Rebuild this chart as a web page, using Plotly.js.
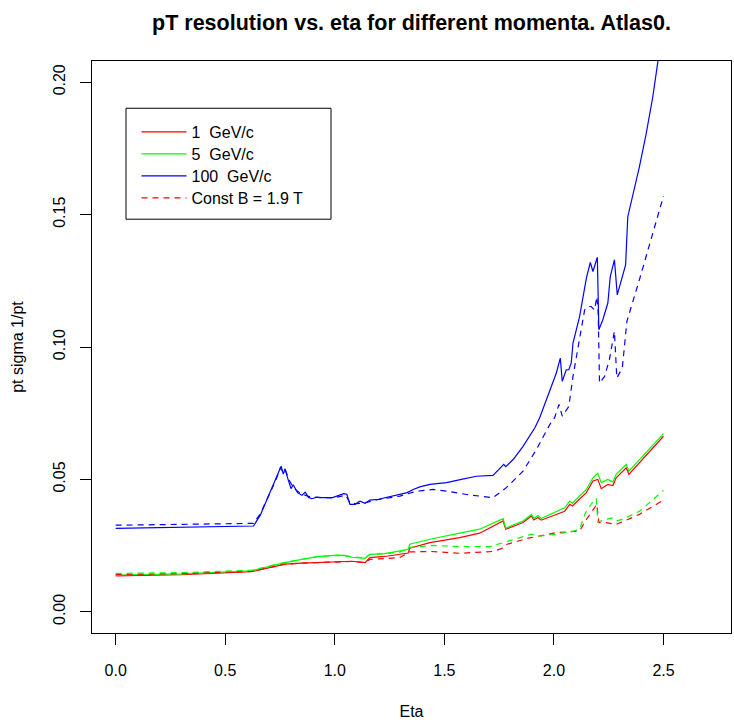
<!DOCTYPE html>
<html>
<head>
<meta charset="utf-8">
<script src="https://cdn.plot.ly/plotly-3.0.1.min.js"></script>
<style>
  html, body { margin: 0; padding: 0; background: #ffffff; }
  #chart { width: 734px; height: 728px; }
</style>
</head>
<body>
<div id="chart"></div>
<script>
// pT resolution (sigma of 1/pt) versus pseudorapidity, Atlas0 geometry.
// Solid lines: full field map; dashed lines: constant B = 1.9 T.

// 1 GeV/c, full field
const eta1 = [0.00, 0.30, 0.621, 0.70, 0.773, 0.85, 0.925, 1.016, 1.077, 1.138, 1.16, 1.229, 1.297, 1.335, 1.342,
  1.434, 1.57, 1.661, 1.768, 1.78, 1.859, 1.897, 1.908, 1.927, 1.942, 2.026, 2.049, 2.072, 2.084, 2.148,
  2.178, 2.20, 2.216, 2.246, 2.269, 2.284, 2.33, 2.342, 2.413, 2.50];
const res1 = [0.0136, 0.0140, 0.0152, 0.0167, 0.0180, 0.0184, 0.0186, 0.0188, 0.0191, 0.0186, 0.0205, 0.0209, 0.0217, 0.0222, 0.0240,
  0.0261, 0.0280, 0.0297, 0.0343, 0.0312, 0.0337, 0.0362, 0.0347, 0.0356, 0.0346, 0.0371, 0.0380, 0.0406, 0.0400, 0.0450,
  0.0494, 0.0500, 0.0465, 0.0481, 0.0477, 0.0506, 0.0544, 0.0519, 0.0585, 0.0663];

// 5 GeV/c, full field
const eta5 = [0.00, 0.30, 0.621, 0.70, 0.773, 0.85, 0.925, 1.016, 1.05, 1.077, 1.138, 1.16, 1.229, 1.297, 1.335, 1.342,
  1.434, 1.57, 1.661, 1.768, 1.78, 1.859, 1.897, 1.908, 1.927, 1.942, 2.026, 2.049, 2.072, 2.084, 2.148,
  2.178, 2.20, 2.216, 2.246, 2.269, 2.284, 2.33, 2.342, 2.413, 2.50];
const res5 = [0.0139, 0.0143, 0.0155, 0.0172, 0.0186, 0.0198, 0.0209, 0.0214, 0.0213, 0.0206, 0.0202, 0.0217, 0.0220, 0.0230, 0.0236, 0.0255,
  0.0274, 0.0297, 0.0312, 0.0352, 0.0316, 0.0343, 0.0368, 0.0352, 0.0364, 0.0352, 0.0383, 0.0393, 0.0418, 0.0410, 0.0462,
  0.0506, 0.0523, 0.0488, 0.0500, 0.0490, 0.0519, 0.0557, 0.0531, 0.0594, 0.0673];

// 100 GeV/c, full field
const eta100 = [0.00, 0.30, 0.629, 0.66, 0.70, 0.73, 0.755, 0.765, 0.773, 0.785, 0.80, 0.81, 0.83, 0.85, 0.865, 0.88,
  0.895, 0.92, 0.94, 0.99, 1.02, 1.04, 1.055, 1.069, 1.092, 1.115, 1.138, 1.16, 1.20, 1.23, 1.297, 1.33,
  1.358, 1.388, 1.434, 1.51, 1.578, 1.646, 1.722, 1.771, 1.78, 1.814, 1.859, 1.913, 1.935, 1.973, 2.011,
  2.029, 2.038, 2.056, 2.068, 2.079, 2.087, 2.117, 2.132, 2.148, 2.166, 2.178, 2.198, 2.205, 2.223, 2.246,
  2.257, 2.276, 2.289, 2.327, 2.337, 2.39, 2.421, 2.451, 2.474, 2.50];
const res100 = [0.0315, 0.0318, 0.0324, 0.0365, 0.0440, 0.0500, 0.0550, 0.0520, 0.0540, 0.0505, 0.0465, 0.0480, 0.0450, 0.0440, 0.0452, 0.0432,
  0.0427, 0.0433, 0.0431, 0.0431, 0.0440, 0.0446, 0.0444, 0.0406, 0.0406, 0.0418, 0.0410, 0.0422, 0.0425, 0.0431, 0.0443, 0.0450,
  0.0462, 0.0472, 0.0481, 0.0488, 0.0500, 0.0512, 0.0515, 0.0557, 0.0548, 0.0575, 0.0625, 0.0695, 0.0733, 0.0814, 0.0902,
  0.0958, 0.0870, 0.0914, 0.0914, 0.0940, 0.1015, 0.1115, 0.1178, 0.1260, 0.1319, 0.1285, 0.1339, 0.1065, 0.1103, 0.1166,
  0.1266, 0.1329, 0.1197, 0.1310, 0.1492, 0.1680, 0.1806, 0.1944, 0.2076, 0.2230];

// 1 GeV/c, constant B = 1.9 T
const eta1B = [0.00, 0.30, 0.621, 0.70, 0.773, 0.85, 0.925, 1.016, 1.077, 1.138, 1.16, 1.229, 1.297, 1.342, 1.434,
  1.57, 1.661, 1.722, 1.768, 1.786, 1.877, 1.935, 2.011, 2.117, 2.148, 2.196, 2.205, 2.238, 2.284, 2.314,
  2.39, 2.50];
const res1B = [0.0141, 0.0144, 0.0153, 0.0167, 0.0180, 0.0184, 0.0186, 0.0188, 0.0190, 0.0186, 0.0198, 0.0201, 0.0205, 0.0226, 0.0228,
  0.0221, 0.0224, 0.0228, 0.0241, 0.0255, 0.0277, 0.0286, 0.0299, 0.0305, 0.0349, 0.0406, 0.0337, 0.0337, 0.0330, 0.0340,
  0.0368, 0.0422];

// 5 GeV/c, constant B = 1.9 T
const eta5B = [0.00, 0.30, 0.621, 0.70, 0.773, 0.85, 0.925, 1.016, 1.077, 1.138, 1.16, 1.229, 1.297, 1.342, 1.449,
  1.57, 1.707, 1.768, 1.829, 1.897, 1.935, 2.011, 2.087, 2.117, 2.144, 2.185, 2.193, 2.20, 2.238, 2.265,
  2.284, 2.314, 2.39, 2.50];
const res5B = [0.0145, 0.0148, 0.0157, 0.0173, 0.0187, 0.0198, 0.0208, 0.0213, 0.0207, 0.0203, 0.0216, 0.0219, 0.0226, 0.0243, 0.0251,
  0.0246, 0.0246, 0.0261, 0.0274, 0.0293, 0.0286, 0.0293, 0.0305, 0.0312, 0.0374, 0.0425, 0.0427, 0.0339, 0.0349, 0.0355,
  0.0343, 0.0349, 0.0380, 0.0458];

// 100 GeV/c, constant B = 1.9 T
const eta100B = [0.00, 0.30, 0.629, 0.66, 0.70, 0.73, 0.752, 0.765, 0.775, 0.79, 0.81, 0.83, 0.85, 0.88, 0.92, 0.99,
  1.05, 1.07, 1.10, 1.14, 1.20, 1.297, 1.358, 1.40, 1.449, 1.51, 1.601, 1.722, 1.783, 1.859, 1.92, 1.981,
  2.003, 2.023, 2.038, 2.068, 2.087, 2.117, 2.14, 2.155, 2.17, 2.185, 2.196, 2.202, 2.208, 2.231, 2.253,
  2.276, 2.287, 2.312, 2.333, 2.39, 2.451, 2.50];
const res100B = [0.0327, 0.0329, 0.0334, 0.0370, 0.0440, 0.0495, 0.0545, 0.0525, 0.0535, 0.0500, 0.0470, 0.0455, 0.0445, 0.0436, 0.0432, 0.0430,
  0.0440, 0.0410, 0.0408, 0.0412, 0.0424, 0.0437, 0.0452, 0.0458, 0.0462, 0.0456, 0.0443, 0.0431, 0.0469, 0.0531, 0.0613, 0.0707,
  0.0733, 0.0783, 0.0739, 0.0776, 0.0889, 0.1028, 0.1140, 0.1153, 0.1153, 0.1140, 0.1190, 0.1128, 0.0864, 0.0889, 0.0952,
  0.1059, 0.0883, 0.0921, 0.1097, 0.1254, 0.1430, 0.1570];

// Axis ticks
const xTicks = [0.0, 0.5, 1.0, 1.5, 2.0, 2.5];
const xTickText = ['0.0', '0.5', '1.0', '1.5', '2.0', '2.5'];
const yTicks = [0.00, 0.05, 0.10, 0.15, 0.20];
const yTickText = ['0.00', '0.05', '0.10', '0.15', '0.20'];

// Legend entries
const legendLabels = ['1  GeV/c', '5  GeV/c', '100  GeV/c', 'Const B = 1.9 T'];

const RED = '#FF0000', GREEN = '#00FF00', BLUE = '#0000FF';
const FONT = 'Liberation Sans, Arial, Helvetica, sans-serif';
const FS = 16;
const LW = 1.2;
const DASH = '6px,5px';

// Plot area in pixels (used to place the legend box in paper units)
const PLOT_L = 92, PLOT_W = 639, PLOT_B = 633.3, PLOT_H = 572.3;
const px2x = px => (px - PLOT_L) / PLOT_W;
const px2y = py => (PLOT_B - py) / PLOT_H;

function line(x, y, color, dash, name, legendId) {
  return {
    x: x, y: y, type: 'scatter', mode: 'lines',
    line: { color: color, width: LW, dash: dash },
    name: name, showlegend: !!legendId, legend: legendId || 'legend',
    hoverinfo: 'skip'
  };
}

const data = [
  line(eta1, res1, RED, 'solid', legendLabels[0], 'legend'),
  line(eta5, res5, GREEN, 'solid', legendLabels[1], 'legend2'),
  line(eta100, res100, BLUE, 'solid', legendLabels[2], 'legend3'),
  line(eta1B, res1B, RED, DASH, legendLabels[3], 'legend4'),
  line(eta5B, res5B, GREEN, DASH, '5 GeV/c const B', null),
  line(eta100B, res100B, BLUE, DASH, '100 GeV/c const B', null)
];

// One legend row per entry so the row spacing can be set exactly
function legendRow(centerPx) {
  return {
    x: px2x(136.5), y: px2y(centerPx), xanchor: 'left', yanchor: 'middle',
    xref: 'paper', yref: 'paper',
    bgcolor: 'rgba(0,0,0,0)', borderwidth: 0,
    font: { family: FONT, size: FS, color: '#000000' },
    itemwidth: 45
  };
}

const layout = {
  width: 734, height: 728,
  margin: { l: 92, r: 3, t: 61, b: 95, pad: 0 },
  paper_bgcolor: '#ffffff', plot_bgcolor: '#ffffff',
  font: { family: FONT, size: FS, color: '#000000' },
  showlegend: true,
  title: {
    text: '<b>pT resolution vs. eta for different momenta. Atlas0.</b>',
    font: { family: FONT, size: 21.5, color: '#000000' },
    x: 0.5, xref: 'paper', xanchor: 'center',
    y: 1 - 22 / 728, yref: 'container', yanchor: 'middle'
  },
  xaxis: {
    range: [-0.108, 2.808], autorange: false,
    tickmode: 'array', tickvals: xTicks, ticktext: xTickText,
    ticks: 'outside', ticklen: 11, tickwidth: 1, tickcolor: '#000000',
    ticklabelstandoff: 12,
    showline: true, mirror: true, linecolor: '#000000', linewidth: 1,
    showgrid: false, zeroline: false,
    tickfont: { family: FONT, size: FS, color: '#000000' },
    title: { text: 'Eta', font: { family: FONT, size: FS, color: '#000000' }, standoff: 27 },
    automargin: false
  },
  yaxis: {
    range: [-0.008, 0.208], autorange: false,
    tickmode: 'array', tickvals: yTicks, ticktext: yTickText,
    tickangle: -90,
    ticks: 'outside', ticklen: 11, tickwidth: 1, tickcolor: '#000000',
    ticklabelstandoff: 9,
    showline: true, mirror: true, linecolor: '#000000', linewidth: 1,
    showgrid: false, zeroline: false,
    tickfont: { family: FONT, size: FS, color: '#000000' },
    title: { text: 'pt sigma 1/pt', font: { family: FONT, size: FS, color: '#000000' }, standoff: 22 },
    automargin: false
  },
  legend: legendRow(132),
  legend2: legendRow(154),
  legend3: legendRow(176),
  legend4: legendRow(198),
  shapes: [{
    type: 'rect', xref: 'paper', yref: 'paper',
    x0: px2x(126), x1: px2x(331),
    y0: px2y(219.3), y1: px2y(108.3),
    line: { color: '#000000', width: 1 }, fillcolor: 'rgba(0,0,0,0)'
  }]
};

Plotly.newPlot('chart', data, layout, { staticPlot: true, displayModeBar: false });
</script>
</body>
</html>
